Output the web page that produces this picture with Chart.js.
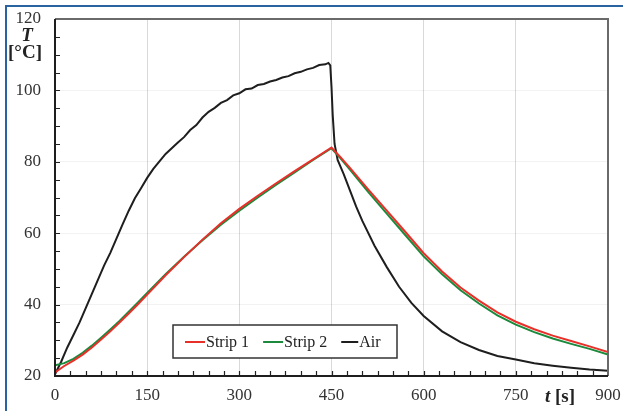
<!DOCTYPE html>
<html>
<head>
<meta charset="utf-8">
<script src="https://cdn.jsdelivr.net/npm/chart.js@4.4.1/dist/chart.umd.min.js"></script>
<style>
  html, body { margin: 0; padding: 0; background: #fff; }
  #wrap { position: relative; width: 623px; height: 411px; }
  #frame { position: absolute; left: 5px; top: 5px; width: 618px; height: 406px;
           border-left: 2px solid #2a64a0; border-top: 2px solid #2a64a0; box-sizing: border-box; pointer-events: none; }
  canvas { position: absolute; left: 0; top: 0; }
</style>
</head>
<body>
<div id="wrap">
  <canvas id="c" width="623" height="411"></canvas>
  <div id="frame"></div>
</div>
<script>
// ---- data ----
const seriesLabels = ['Strip 1', 'Strip 2', 'Air'];
const xTickValues = [0, 150, 300, 450, 600, 750, 900];
const yTickValues = [20, 40, 60, 80, 100, 120];

const tStrip = [0, 15, 30, 45, 60, 75, 90, 105, 120, 135, 150, 180, 210, 240, 270, 300, 330, 360, 390, 420, 450,
                465, 480, 510, 540, 570, 600, 630, 660, 690, 720, 750, 780, 810, 840, 870, 900];
const strip1 = [21.0, 22.8, 24.3, 26.0, 28.0, 30.2, 32.5, 35.0, 37.5, 40.1, 42.8, 48.2, 53.3, 58.2, 62.8, 66.8, 70.5, 74.0, 77.4, 80.7, 84.0,
                81.2, 78.3, 72.2, 66.3, 60.4, 54.4, 49.3, 44.8, 41.1, 37.8, 35.2, 33.1, 31.3, 29.8, 28.3, 26.7];
const strip2 = [23.0, 23.6, 24.8, 26.5, 28.5, 30.7, 33.0, 35.4, 38.0, 40.6, 43.3, 48.5, 53.4, 58.0, 62.4, 66.3, 70.0, 73.6, 77.0, 80.5, 83.8,
                80.9, 77.8, 71.5, 65.5, 59.5, 53.5, 48.5, 44.0, 40.3, 37.0, 34.4, 32.3, 30.5, 29.0, 27.6, 26.0];

const tAir = [0, 10, 20, 30, 40, 50, 60, 70, 80, 90, 100, 110, 120, 130, 140, 150, 160, 170, 180, 190, 200,
              210, 220, 230, 240, 250, 260, 270, 280, 290, 300, 310, 320, 330, 340, 350, 360, 370, 380, 390, 400,
              410, 420, 430, 440, 445, 448, 450, 452, 455, 460, 470, 480, 490, 500, 520, 540, 560, 580, 600,
              630, 660, 690, 720, 750, 780, 810, 840, 870, 900];
const airT = [20.5, 24.0, 28.0, 31.5, 35.0, 39.0, 43.0, 47.0, 51.0, 54.5, 58.5, 62.5, 66.3, 69.8, 72.6, 75.5, 78.0, 80.1, 82.2, 83.8, 85.4,
              86.9, 88.9, 90.3, 92.4, 94.0, 95.1, 96.5, 97.3, 98.6, 99.2, 100.3, 100.5, 101.5, 101.8, 102.5, 102.9, 103.6, 104.0, 104.8, 105.2,
              105.9, 106.3, 107.1, 107.3, 107.7, 107.0, 101.0, 93.0, 85.0, 80.5, 76.5, 72.0, 67.5, 63.5, 56.5, 50.5, 45.0, 40.5, 36.8,
              32.5, 29.5, 27.3, 25.6, 24.6, 23.6, 22.9, 22.3, 21.8, 21.5];

const seriesColors = ['#e8302a', '#1b8a3c', '#1e1e1e'];

function pts(xs, ys) { return xs.map((x, i) => ({ x: x, y: ys[i] })); }

const SERIF = "'Liberation Serif', 'DejaVu Serif', serif";

const decorPlugin = {
  id: 'decor',
  afterDraw(chart) {
    const ctx = chart.ctx;
    const a = chart.chartArea;
    const xs = chart.scales.x, ys = chart.scales.y;
    ctx.save();
    // minor/major tick marks pointing inward
    ctx.strokeStyle = '#222';
    ctx.lineWidth = 1.2;
    ctx.beginPath();
    for (let v = 25; v < 900; v += 25) {
      const px = Math.round(xs.getPixelForValue(v)) + 0.5;
      ctx.moveTo(px, a.bottom); ctx.lineTo(px, a.bottom - 5);
    }
    for (let v = 25; v < 120; v += 5) {
      const py = Math.round(ys.getPixelForValue(v)) + 0.5;
      ctx.moveTo(a.left, py); ctx.lineTo(a.left + 5, py);
    }
    ctx.stroke();
    // frame: top and right grey, left and bottom dark
    ctx.lineWidth = 2;
    ctx.strokeStyle = '#6a6a6a';
    ctx.beginPath();
    ctx.moveTo(a.left, a.top); ctx.lineTo(a.right, a.top); ctx.lineTo(a.right, a.bottom);
    ctx.stroke();
    ctx.strokeStyle = '#1e1e1e';
    ctx.beginPath();
    ctx.moveTo(a.left, a.top); ctx.lineTo(a.left, a.bottom); ctx.lineTo(a.right, a.bottom);
    ctx.stroke();

    // axis titles
    ctx.fillStyle = '#222';
    ctx.textBaseline = 'middle';
    ctx.textAlign = 'center';
    ctx.font = 'italic bold 19px ' + SERIF;
    ctx.fillText('T', 27, 36);
    ctx.font = 'bold 19px ' + SERIF;
    ctx.fillText('[°C]', 25, 53);
    // x title
    ctx.textAlign = 'left';
    ctx.font = 'italic bold 19px ' + SERIF;
    const tW = ctx.measureText('t').width;
    ctx.font = 'bold 19px ' + SERIF;
    const sW = ctx.measureText(' [s]').width;
    let x0 = 560 - (tW + sW) / 2;
    ctx.font = 'italic bold 19px ' + SERIF;
    ctx.fillText('t', x0, 397);
    ctx.font = 'bold 19px ' + SERIF;
    ctx.fillText(' [s]', x0 + tW, 397);

    // legend box
    const bx = 173, by = 325, bw = 224, bh = 33;
    ctx.fillStyle = '#fff';
    ctx.fillRect(bx, by, bw, bh);
    ctx.strokeStyle = '#333';
    ctx.lineWidth = 1.5;
    ctx.strokeRect(bx, by, bw, bh);
    ctx.font = '16px ' + SERIF;
    ctx.textBaseline = 'middle';
    let lx = 185;
    const ly = by + bh / 2 + 0.5;
    chart.data.datasets.forEach((ds, i) => {
      const len = i === 2 ? 17 : 20;
      ctx.strokeStyle = ds.borderColor;
      ctx.lineWidth = 2;
      ctx.beginPath(); ctx.moveTo(lx, ly); ctx.lineTo(lx + len, ly); ctx.stroke();
      ctx.fillStyle = '#222';
      ctx.fillText(ds.label, lx + len + 1, ly + 1);
      lx += len + 1 + ctx.measureText(ds.label).width + 14;
    });
    ctx.restore();
  }
};

function zeroPad(s) { s.paddingTop = 0; s.paddingBottom = 0; s.paddingLeft = 0; s.paddingRight = 0; }

new Chart(document.getElementById('c'), {
  type: 'line',
  data: {
    datasets: [
      { label: seriesLabels[0], data: pts(tStrip, strip1), borderColor: seriesColors[0] },
      { label: seriesLabels[1], data: pts(tStrip, strip2), borderColor: seriesColors[1] },
      { label: seriesLabels[2], data: pts(tAir, airT), borderColor: seriesColors[2] }
    ].map(d => Object.assign(d, { borderWidth: 2, pointRadius: 0, fill: false, tension: 0 }))
  },
  options: {
    responsive: false,
    animation: false,
    layout: { padding: { top: 19, right: 15, left: 0, bottom: 0 } },
    plugins: { legend: { display: false }, tooltip: { enabled: false } },
    scales: {
      x: {
        type: 'linear', min: 0, max: 900,
        afterBuildTicks: s => { s.ticks = xTickValues.map(v => ({ value: v })); },
        afterFit: s => { s.height = 35; zeroPad(s); },
        ticks: { font: { family: SERIF, size: 17 }, color: '#333', padding: 9, maxRotation: 0 },
        grid: { drawTicks: false, color: c => (c.tick && (c.tick.value === 0 || c.tick.value === 900)) ? 'rgba(0,0,0,0)' : '#d9d9d9', lineWidth: 1 },
        border: { display: false }
      },
      y: {
        min: 20, max: 120,
        afterBuildTicks: s => { s.ticks = yTickValues.map(v => ({ value: v })); },
        afterFit: s => { s.width = 55; zeroPad(s); },
        ticks: { font: { family: SERIF, size: 17 }, color: '#333', padding: 14 },
        grid: { drawTicks: false, color: 'rgba(0,0,0,0.05)', lineWidth: 1 },
        border: { display: false }
      }
    }
  },
  plugins: [decorPlugin]
});
</script>
</body>
</html>
